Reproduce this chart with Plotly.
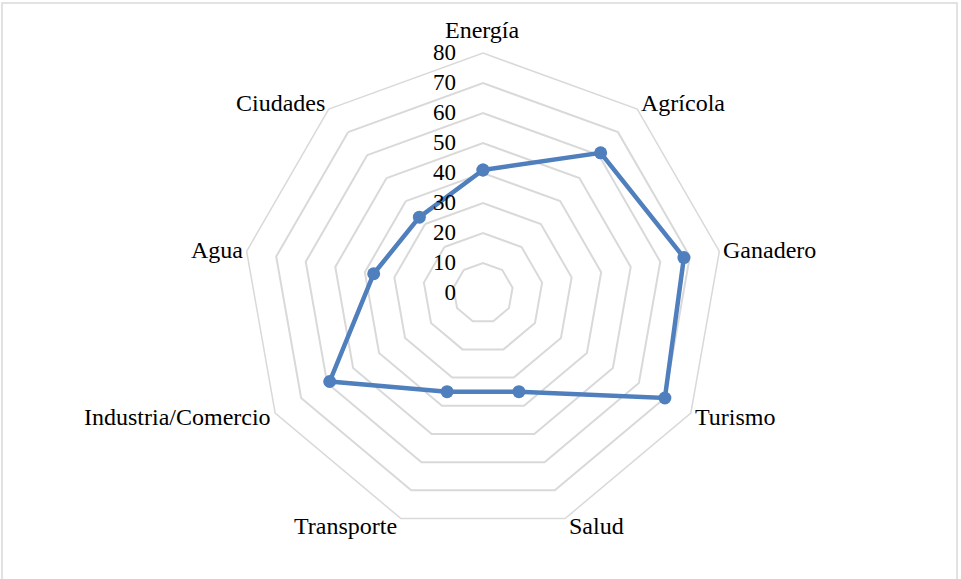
import math
import plotly.graph_objects as go

categories = ["Energía", "Agrícola", "Ganadero", "Turismo", "Salud",
              "Transporte", "Industria/Comercio", "Agua", "Ciudades"]
values = [41, 61, 68, 70, 35, 35, 59, 37, 33]
tick_vals = [0, 10, 20, 30, 40, 50, 60, 70, 80]

W, H = 961, 579
cx, cy, R = 483, 293, 240        # centre / outer radius of the grid (px)

fig = go.Figure()
fig.add_trace(go.Scatterpolar(
    r=values + values[:1],
    theta=categories + categories[:1],
    mode="lines+markers",
    line=dict(color="#4F7FBD", width=4.5),
    marker=dict(color="#4F7FBD", size=13),
    showlegend=False,
))

# category labels placed just outside the outer ring
annotations = []
n = len(categories)
for i, name in enumerate(categories):
    a = 2 * math.pi * i / n
    s, c = math.sin(a), math.cos(a)
    vx = cx + R * s
    vy = cy - R * c
    if abs(s) < 0.1:
        xa, px, py = "center", vx, vy - 23
    else:
        xa = "left" if s > 0 else "right"
        px = vx + 2 * (1 if s > 0 else -1)
        py = vy - 8 * c
    annotations.append(dict(
        text=name, xref="paper", yref="paper",
        x=px / W, y=1 - py / H, xanchor=xa, yanchor="middle",
        showarrow=False, font=dict(size=24, color="#000000")))

fig.update_layout(
    width=W, height=H,
    margin=dict(l=0, r=0, t=0, b=0),
    paper_bgcolor="white",
    font=dict(family="Liberation Serif, Times New Roman, serif", size=24, color="#000000"),
    polar=dict(
        domain=dict(x=[(cx - R) / W, (cx + R) / W],
                    y=[(H - cy - R) / H, (H - cy + R) / H]),
        bgcolor="white",
        gridshape="linear",
        angularaxis=dict(rotation=90, direction="clockwise",
                         showgrid=False, showline=True,
                         linecolor="#D9D9D9", linewidth=1.5,
                         ticks="", showticklabels=False),
        radialaxis=dict(range=[0, 80], tickvals=tick_vals,
                        ticktext=[str(v) + "\u00a0\u00a0\u00a0\u00a0" for v in tick_vals],
                        angle=90, tickangle=90, side="counterclockwise",
                        showline=False, ticks="",
                        gridcolor="#D9D9D9", gridwidth=1.5,
                        tickfont=dict(size=23, color="#000000")),
    ),
    annotations=annotations,
    shapes=[dict(type="rect", xref="paper", yref="paper",
                 x0=2 / W, x1=957 / W, y0=-0.05, y1=1 - 3 / H,
                 line=dict(color="#D9D9D9", width=1.5))],
)

fig.write_html("out.html",
               config={"displayModeBar": False},
               post_script="document.body.style.margin='0';document.body.style.overflow='hidden';")
